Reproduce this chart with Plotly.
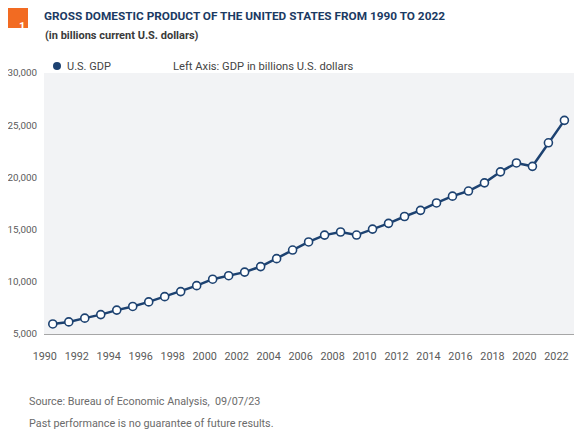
import plotly.graph_objects as go

# Daten: US GDP in billions current U.S. dollars
jahre = list(range(1990, 2023))
gdp = [5963.1, 6158.1, 6520.3, 6858.6, 7287.2, 7639.7, 8073.1, 8577.6, 9062.8, 9631.2,
       10251.0, 10581.9, 10929.1, 11456.5, 12217.2, 13039.2, 13815.6, 14474.2, 14769.9, 14478.1,
       15049.0, 15599.7, 16254.0, 16843.2, 17550.7, 18206.0, 18695.1, 19477.3, 20533.1, 21381.0,
       21060.5, 23315.1, 25462.7]
x_ticks = list(range(1990, 2023, 2))
y_ticks = [5000, 10000, 15000, 20000, 25000, 30000]

schrift = 'Roboto, Liberation Sans, sans-serif'
navy = '#1D4271'
grau = '#5A5A5A'

fig = go.Figure()

# Linie mit weissen Punkten
fig.add_trace(go.Scatter(x=jahre, y=gdp, mode='lines+markers', name='U.S. GDP', showlegend=False,
                         line=dict(color=navy, width=2.5),
                         marker=dict(size=8, color='white', line=dict(color=navy, width=1.6))))

# Seite hat 8px Rand -> Figur 8px kleiner
fig.update_layout(
    width=575, height=427,
    margin=dict(l=36, r=9, t=65, b=101, autoexpand=False),
    paper_bgcolor='white', plot_bgcolor='#F2F3F5',
    font=dict(family=schrift, size=11, color=grau),
    showlegend=False,
)

fig.update_xaxes(range=[1989.45, 2022.6], tickvals=x_ticks, showgrid=False, zeroline=False,
                 showline=True, linecolor='#A6A6A6', linewidth=1, automargin=False,
                 ticks='outside', ticklen=12, tickcolor='rgba(0,0,0,0)', ticklabelshift=-8,
                 tickfont=dict(size=10.8, color=grau))
fig.update_yaxes(range=[5000, 30000], tickvals=y_ticks, tickformat=',', showgrid=False, zeroline=False,
                 showline=False, ticks='outside', ticklen=4, tickcolor='rgba(0,0,0,0)', automargin=False,
                 tickfont=dict(size=9.8, color=grau))

# Pixel (wie im Original) -> paper Koordinaten
def py(p):
    return (334 - p) / 261

def px_(p):
    return (p - 44) / 530

# Kasten mit Nummer
fig.add_shape(type='rect', xref='paper', yref='paper', x0=px_(8), x1=px_(28), y0=py(28), y1=py(8),
              fillcolor='#F26B22', line=dict(width=0))
fig.add_annotation(x=px_(17), y=py(18), xref='paper', yref='paper', text='<b>1</b>', showarrow=False,
                   font=dict(size=11, color='white'))

# Titel und Untertitel
fig.add_annotation(x=px_(43), y=py(8), xref='paper', yref='paper', xanchor='left', yanchor='top',
                   borderpad=0,
                   text='<b>GROSS DOMESTIC PRODUCT OF THE UNITED STATES FROM 1990 TO 2022</b>',
                   showarrow=False, font=dict(size=11.8, color='#1B3A63'))
fig.add_annotation(x=px_(43), y=py(35), xref='paper', yref='paper', xanchor='left', yanchor='middle',
                   text='<b>(in billions current U.S. dollars)</b>',
                   showarrow=False, font=dict(size=11, color='#3A3A3A'))

# Legende
fig.add_shape(type='circle', xref='paper', yref='paper', x0=px_(53), x1=px_(61), y0=py(70), y1=py(62),
              fillcolor=navy, line=dict(width=0))
fig.add_annotation(x=px_(65), y=py(66), xref='paper', yref='paper', xanchor='left', yanchor='middle',
                   text='U.S. GDP', showarrow=False, font=dict(size=11, color='#444444'))
fig.add_annotation(x=px_(171), y=py(66), xref='paper', yref='paper', xanchor='left', yanchor='middle',
                   text='Left Axis: GDP in billions U.S. dollars',
                   showarrow=False, font=dict(size=11.2, color='#444444'))

# Quelle
fig.add_annotation(x=px_(27), y=py(401), xref='paper', yref='paper', xanchor='left', yanchor='middle',
                   text='Source: Bureau of Economic Analysis,  09/07/23',
                   showarrow=False, font=dict(size=10.8, color='#6B6B6B'))
fig.add_annotation(x=px_(27), y=py(423), xref='paper', yref='paper', xanchor='left', yanchor='middle',
                   text='Past performance is no guarantee of future results.',
                   showarrow=False, font=dict(size=10.8, color='#6B6B6B'))

fig.write_html('out.html')
